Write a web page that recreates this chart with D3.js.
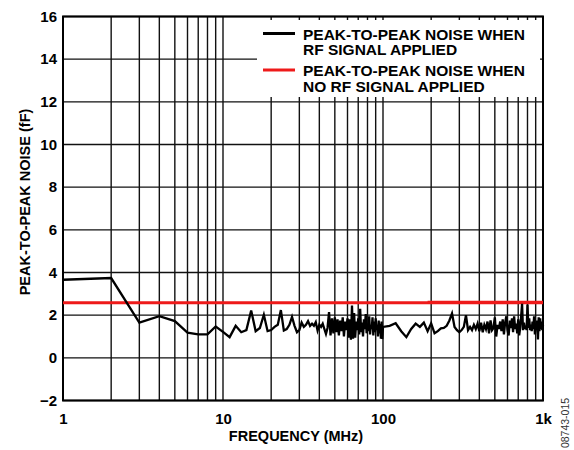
<!DOCTYPE html>
<html>
<head>
<meta charset="utf-8">
<script src="https://cdn.jsdelivr.net/npm/d3@7"></script>
<style>
  html, body { margin: 0; padding: 0; background: #fff; }
  svg { display: block; }
  text { font-family: "Liberation Sans", Arial, sans-serif; }
</style>
</head>
<body>
<svg id="chart" width="574" height="450"></svg>
<script>
// ---------- data ----------
const xTickValues = [1, 10, 100, 1000];
const xTickLabels = ["1", "10", "100", "1k"];
const yTickValues = [-2, 0, 2, 4, 6, 8, 10, 12, 14, 16];
const yTickLabels = ["\u22122", "0", "2", "4", "6", "8", "10", "12", "14", "16"];

// sample frequencies (MHz): 1..100 step 1, then 110..1000 step 10
const rfFreqLow = d3.range(1, 101, 1);
const rfFreqHigh = d3.range(110, 1001, 10);

// peak-to-peak noise with RF signal applied (fF), f = 1..100 MHz
const rfNoiseLow = [
  3.66, 3.74, 1.65, 1.95, 1.72, 1.18, 1.10, 1.10, 1.47, 1.22,
  0.97, 1.50, 1.20, 1.30, 2.22, 1.25, 1.40, 2.02, 1.25, 1.30,
  1.45, 1.55, 2.24, 1.28, 1.35, 1.55, 1.92, 1.50, 1.20, 1.30,
  1.65, 1.45, 1.55, 1.72, 1.50, 1.60, 1.50, 1.67, 1.28, 1.55,
  1.45, 1.60, 1.35, 1.12, 1.40, 2.14, 1.05, 1.85, 1.15, 1.90,
  1.20, 1.80, 1.05, 1.75, 1.25, 1.90, 1.00, 1.70, 1.30, 1.85,
  0.95, 1.80, 0.85, 2.45, 0.90, 2.10, 0.95, 1.70, 1.30, 1.85,
  1.10, 2.30, 1.20, 1.65, 1.00, 1.80, 1.35, 2.05, 1.15, 1.60,
  1.25, 1.95, 1.10, 1.55, 1.35, 1.90, 1.05, 1.70, 1.20, 1.85,
  1.30, 1.55, 1.00, 1.75, 1.15, 1.60, 0.90, 1.70, 0.88, 1.45
];
// f = 110..1000 MHz
const rfNoiseHigh = [
  1.50, 1.62, 1.25, 0.97, 1.35, 1.60, 1.45, 1.65, 1.25, 1.62,
  1.15, 1.25, 1.38, 1.40, 1.50, 1.75, 2.08, 1.45, 1.30, 1.20,
  1.30, 1.45, 2.00, 1.30, 1.45, 1.30, 1.55, 1.35, 1.60, 1.25,
  1.65, 1.20, 1.55, 1.35, 1.70, 1.15, 1.75, 1.30, 1.40, 1.90,
  1.00, 1.55, 1.35, 1.70, 1.25, 1.80, 1.10, 1.65, 1.95, 1.30,
  1.05, 1.75, 1.40, 1.85, 1.20, 1.95, 1.35, 1.60, 1.15, 1.80,
  1.05, 1.40, 1.95, 2.53, 1.30, 1.65, 1.35, 1.50, 1.30, 2.50,
  1.40, 1.85, 1.30, 1.55, 1.25, 1.70, 1.35, 1.95, 1.10, 1.60,
  1.40, 1.75, 0.86, 1.90, 1.25, 1.85, 1.35, 1.70, 1.30, 1.55
];

// peak-to-peak noise with no RF signal applied (fF)
const noRfFreq = [1, 1000];
const noRfNoise = [2.58, 2.58];
const noRfFreq2 = [190, 1000];
const noRfNoise2 = [2.60, 2.60];

const legendLabels = [
  ["PEAK-TO-PEAK NOISE WHEN", "RF SIGNAL APPLIED"],
  ["PEAK-TO-PEAK NOISE WHEN", "NO RF SIGNAL APPLIED"]
];
const legendColors = ["#000000", "#ee1a1a"];

// ---------- chart ----------
const svg = d3.select("#chart");
const L = 63, R = 543, T = 16.5, B = 400.5;

const x = d3.scaleLog().domain([1, 1000]).range([L, R]);
const y = d3.scaleLinear().domain([-2, 16]).range([B, T]);

// grid
const grid = svg.append("g");
grid.selectAll("line.v").data(x.ticks()).join("line")
  .attr("x1", d => x(d)).attr("x2", d => x(d))
  .attr("y1", T).attr("y2", B)
  .attr("stroke", "#111").attr("stroke-width", 1.4);
grid.selectAll("line.h").data(yTickValues).join("line")
  .attr("x1", L).attr("x2", R)
  .attr("y1", d => y(d)).attr("y2", d => y(d))
  .attr("stroke", "#111").attr("stroke-width", 1.4);

// legend box (covers grid)
svg.append("rect")
  .attr("x", 257).attr("y", 20).attr("width", 283).attr("height", 77)
  .attr("fill", "#fff");

// frame
svg.append("rect")
  .attr("x", L).attr("y", T).attr("width", R - L).attr("height", B - T)
  .attr("fill", "none").attr("stroke", "#000").attr("stroke-width", 2);

// series
const line = d3.line().x(d => x(d[0])).y(d => y(d[1]));

const redData = noRfFreq.map((f, i) => [f, noRfNoise[i]]);
const redData2 = noRfFreq2.map((f, i) => [f, noRfNoise2[i]]);
svg.append("path").datum(redData).attr("d", line)
  .attr("fill", "none").attr("stroke", legendColors[1]).attr("stroke-width", 3);
svg.append("path").datum(redData2).attr("d", line)
  .attr("fill", "none").attr("stroke", legendColors[1]).attr("stroke-width", 3);

const blackData = rfFreqLow.map((f, i) => [f, rfNoiseLow[i]])
  .concat(rfFreqHigh.map((f, i) => [f, rfNoiseHigh[i]]));
svg.append("path").datum(blackData).attr("d", line)
  .attr("fill", "none").attr("stroke", legendColors[0]).attr("stroke-width", 2.3)
  .attr("stroke-linejoin", "miter");

// axes
const xAxis = d3.axisBottom(x).tickValues(xTickValues)
  .tickFormat((d, i) => xTickLabels[i]).tickSize(0).tickPadding(13);
const gx = svg.append("g").attr("transform", `translate(0,${B})`).call(xAxis);
gx.select(".domain").remove();
gx.selectAll("text").attr("font-size", "15px").attr("font-weight", "bold")
  .attr("fill", "#000").attr("font-family", "Liberation Sans, Arial, sans-serif");

const yAxis = d3.axisLeft(y).tickValues(yTickValues)
  .tickFormat((d, i) => yTickLabels[i]).tickSize(0).tickPadding(6);
const gy = svg.append("g").attr("transform", `translate(${L},0)`).call(yAxis);
gy.select(".domain").remove();
gy.selectAll("text").attr("font-size", "15px").attr("font-weight", "bold")
  .attr("fill", "#000").attr("font-family", "Liberation Sans, Arial, sans-serif");

// axis titles
svg.append("text")
  .attr("x", 296).attr("y", 441)
  .attr("text-anchor", "middle")
  .attr("font-size", "14.5px").attr("font-weight", "bold")
  .text("FREQUENCY (MHz)");

svg.append("text")
  .attr("transform", "translate(30,202) rotate(-90)")
  .attr("text-anchor", "middle")
  .attr("font-size", "14.5px").attr("font-weight", "bold")
  .text("PEAK-TO-PEAK NOISE (fF)");

svg.append("text")
  .attr("transform", "translate(569,423) rotate(-90)")
  .attr("text-anchor", "middle")
  .attr("font-size", "10.5px").attr("fill", "#333")
  .text("08743-015");

// legend
const legendY = [33.5, 70];
legendLabels.forEach((lines, i) => {
  svg.append("line")
    .attr("x1", 263).attr("x2", 295)
    .attr("y1", legendY[i]).attr("y2", legendY[i])
    .attr("stroke", legendColors[i]).attr("stroke-width", 3);
  lines.forEach((t, j) => {
    svg.append("text")
      .attr("x", 303).attr("y", legendY[i] + 6 + j * 15.5)
      .attr("font-size", "15.5px").attr("font-weight", "bold")
      .text(t);
  });
});
</script>
</body>
</html>
